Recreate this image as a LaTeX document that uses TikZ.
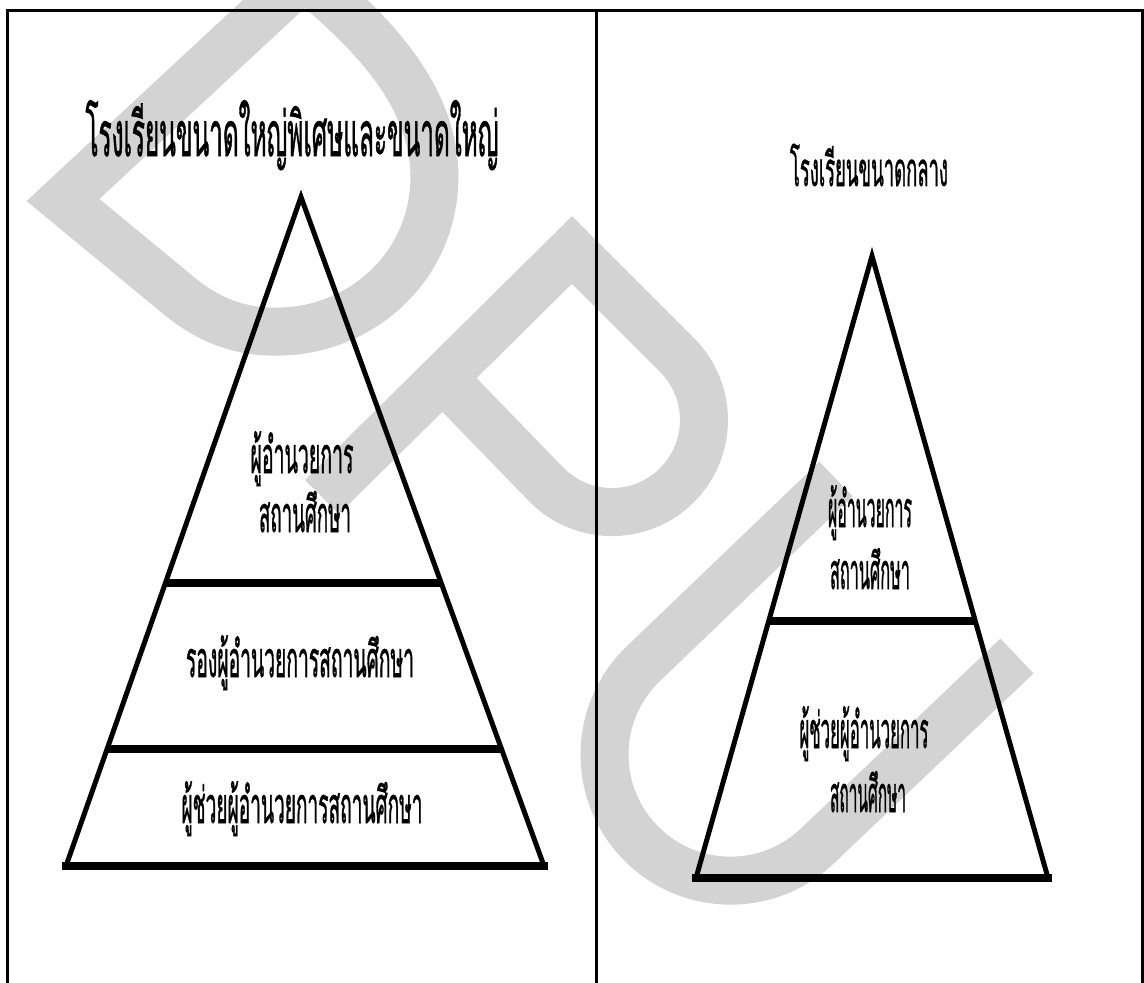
\documentclass[tikz,border=0pt]{standalone}
\usepackage{fontspec}
\usepackage{graphicx}
\usetikzlibrary{calc}
\newfontfamily\thaifont[Script=Thai, FakeBold=1.5]{Loma}
% condensed Thai text: scale to a given width, keep the natural height
\newcommand\thcond[2]{\resizebox{#1}{\height}{\thaifont #2}}
\definecolor{wmgray}{RGB}{211,211,211}

\begin{document}
\begin{tikzpicture}[x=1pt,y=-1pt,
  framerule/.style={line width=3pt, line join=miter},
  side/.style={line width=5pt, line join=miter},
  tier/.style={line width=8pt},
  wmark/.style={draw=wmgray, line width=48pt, line join=miter},
  lbl/.style={anchor=base, inner sep=0pt, font=\fontsize{50}{50}\selectfont},
  ttl/.style={anchor=base, inner sep=0pt, font=\fontsize{62}{62}\selectfont}
]
\useasboundingbox (0,0) rectangle (1144,983);
\clip (0,0) rectangle (1144,983);
\fill[white] (0,0) rectangle (1144,983);

% ---- background letters D, P, U ----
\draw[wmark] (63,200) -- (178,295) .. controls (220,330) and (260,335) .. (300,330)
  .. controls (380,318) and (440,250) .. (434,165)
  .. controls (428,90) and (370,30) .. (304,-24) -- cycle;
\draw[wmark] (322,497) -- (572,250) -- (677,355)
  arc[start angle=-45, end angle=135, radius=92] -- (442,377);
\draw[wmark] (836,479) -- (643,664)
  arc[start angle=226, end angle=46, radius=126] -- (1017,656);

% ---- table frame ----
\draw[framerule] (7,1000) -- (7,10) -- (1142.5,10) -- (1142.5,1000);
\draw[framerule] (596,10) -- (596,1000);

% ---- left pyramid: three tiers ----
\coordinate (LA) at (301,197);
\coordinate (LL) at (66,866);
\coordinate (LR) at (544,866);
\draw[side] (LL) -- (LA) -- (LR);
\draw[tier] ($(LA)!0.577!(LL)$) -- ($(LA)!0.577!(LR)$);
\draw[tier] ($(LA)!0.825!(LL)$) -- ($(LA)!0.825!(LR)$);
\draw[tier] ([xshift=-4pt]LL) -- ([xshift=4pt]LR);

\node[ttl] (ltitle) at (292,156) {\thcond{413pt}{โรงเรียนขนาดใหญ่พิเศษและขนาดใหญ่}};
\node[lbl] (ldir1) at (302,473) {\thcond{103pt}{ผู้อำนวยการ}};
\node[lbl] (ldir2) at (305,532) {\thcond{92pt}{สถานศึกษา}};
\node[lbl] (ldep) at (300,677) {\thcond{228pt}{รองผู้อำนวยการสถานศึกษา}};
\node[lbl] (lasst) at (302,823) {\thcond{241pt}{ผู้ช่วยผู้อำนวยการสถานศึกษา}};

% ---- right pyramid: two tiers ----
\coordinate (RA) at (872,256);
\coordinate (RL) at (696,878);
\coordinate (RR) at (1048,878);
\draw[side] (RL) -- (RA) -- (RR);
\draw[tier] ($(RA)!0.587!(RL)$) -- ($(RA)!0.587!(RR)$);
\draw[tier] ([xshift=-4pt]RL) -- ([xshift=4pt]RR);

\node[ttl, font=\fontsize{47}{47}\selectfont] (rtitle) at (869,186) {\thcond{158pt}{โรงเรียนขนาดกลาง}};
\node[lbl] (rdir1) at (870,527) {\thcond{84pt}{ผู้อำนวยการ}};
\node[lbl] (rdir2) at (870,589) {\thcond{80pt}{สถานศึกษา}};
\node[lbl] (rasst1) at (864,748) {\thcond{129pt}{ผู้ช่วยผู้อำนวยการ}};
\node[lbl] (rasst2) at (868,812) {\thcond{76pt}{สถานศึกษา}};
\end{tikzpicture}
\end{document}
